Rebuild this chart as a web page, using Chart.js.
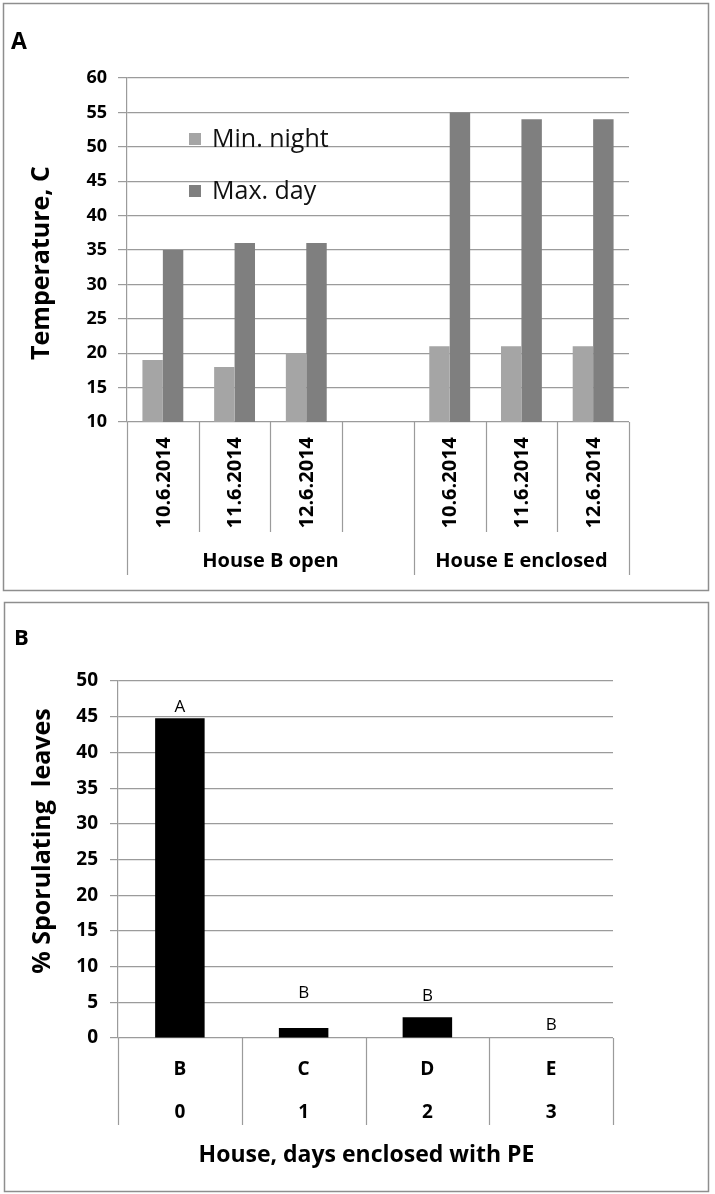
<!DOCTYPE html>
<html>
<head>
<meta charset="utf-8">
<script src="https://cdn.jsdelivr.net/npm/chart.js@4.4.0/dist/chart.umd.min.js"></script>
<style>
  html, body { margin: 0; padding: 0; background: #fff; }
  canvas { position: absolute; left: 0; }
  #tempChart { top: 0; }
  #sporChart { top: 597px; }
</style>
</head>
<body>
<canvas id="tempChart" width="715" height="597"></canvas>
<canvas id="sporChart" width="715" height="597"></canvas>
<script>
// Panel A: temperatures per day, two houses
const dateLabels = ['10.6.2014', '11.6.2014', '12.6.2014', '', '10.6.2014', '11.6.2014', '12.6.2014'];
const houseGroups = ['House B open', 'House E enclosed'];
const groupSpans = [4, 3];
const minNight = [19, 18, 20, null, 21, 21, 21];
const maxDay = [35, 36, 36, null, 55, 54, 54];

// Panel B: sporulating leaves per house
const houses = ['B', 'C', 'D', 'E'];
const daysEnclosed = ['0', '1', '2', '3'];
const sporulating = [44.8, 1.4, 2.9, 0];
const letters = ['A', 'B', 'B', 'B'];
const letterAt = [45.7, 5.6, 5.2, 1.1];

const GRID = '#9b9b9b';
const FONT = "'Open Sans', 'DejaVu Sans', sans-serif";
Chart.defaults.font.family = FONT;

function frame(ctx, x, y, w, h) {
  ctx.save();
  ctx.strokeStyle = '#8e8e8e';
  ctx.lineWidth = 1.5;
  ctx.strokeRect(x, y, w, h);
  ctx.restore();
}

function vline(ctx, x, y1, y2) {
  ctx.beginPath();
  ctx.moveTo(x, y1);
  ctx.lineTo(x, y2);
  ctx.stroke();
}

function vtext(ctx, text, x, y, align) {
  ctx.save();
  ctx.translate(x, y);
  ctx.rotate(-Math.PI / 2);
  ctx.textAlign = align;
  ctx.textBaseline = 'middle';
  ctx.fillText(text, 0, 0);
  ctx.restore();
}

const tempDecor = {
  id: 'tempDecor',
  afterDraw(chart) {
    const { ctx, chartArea: a, scales: { x } } = chart;
    const n = dateLabels.length;
    const slot = (a.right - a.left) / n;
    ctx.save();
    frame(ctx, 3.5, 3.5, 705, 587);

    // category dividers, longer ones at group edges
    const edges = [0];
    groupSpans.forEach(s => edges.push(edges[edges.length - 1] + s));
    ctx.strokeStyle = GRID;
    ctx.lineWidth = 1.2;
    for (let i = 0; i <= n; i++) {
      const px = Math.round(a.left + i * slot) + 0.5;
      vline(ctx, px, a.bottom, a.bottom + (edges.includes(i) ? 153 : 110));
    }

    ctx.fillStyle = '#000';
    ctx.font = 'bold 20px ' + FONT;
    dateLabels.forEach((d, i) => {
      if (d) vtext(ctx, d, x.getPixelForValue(i) + 1, a.bottom + 15, 'right');
    });

    ctx.textAlign = 'center';
    ctx.textBaseline = 'alphabetic';
    houseGroups.forEach((g, k) => {
      const cx = a.left + (edges[k] + edges[k + 1]) / 2 * slot;
      ctx.fillText(g, cx, a.bottom + 145);
    });

    // legend inside plot
    ctx.textAlign = 'left';
    ctx.font = '25px ' + FONT;
    chart.data.datasets.forEach((ds, k) => {
      const top = 133 + k * 52;
      ctx.fillStyle = ds.backgroundColor;
      ctx.fillRect(189, top, 12, 12);
      ctx.fillStyle = '#111';
      ctx.fillText(ds.label, 212, top + 14);
    });

    ctx.fillStyle = '#000';
    ctx.font = 'bold 25px ' + FONT;
    vtext(ctx, 'Temperature, C', 42, 263, 'center');

    ctx.font = 'bold 23px ' + FONT;
    ctx.textAlign = 'left';
    ctx.fillText('A', 11, 49);
    ctx.restore();
  }
};

const sporDecor = {
  id: 'sporDecor',
  afterDraw(chart) {
    const { ctx, chartArea: a, scales: { x, y } } = chart;
    const n = houses.length;
    const slot = (a.right - a.left) / n;
    ctx.save();
    frame(ctx, 4.5, 5.5, 704, 589);

    ctx.strokeStyle = GRID;
    ctx.lineWidth = 1.2;
    for (let i = 0; i <= n; i++) {
      vline(ctx, Math.round(a.left + i * slot) + 0.5, a.bottom, a.bottom + 87);
    }

    ctx.fillStyle = '#000';
    ctx.textAlign = 'center';
    ctx.textBaseline = 'alphabetic';
    ctx.font = 'bold 19px ' + FONT;
    houses.forEach((h, i) => {
      const cx = x.getPixelForValue(i);
      ctx.fillText(h, cx, a.bottom + 37);
      ctx.fillText(daysEnclosed[i], cx, a.bottom + 80);
    });

    ctx.font = '17px ' + FONT;
    letters.forEach((l, i) => {
      ctx.fillText(l, x.getPixelForValue(i), y.getPixelForValue(letterAt[i]));
    });

    ctx.font = 'bold 23px ' + FONT;
    ctx.fillText('House, days enclosed with PE', (a.left + a.right) / 2 + 1, a.bottom + 124);

    ctx.font = 'bold 25px ' + FONT;
    vtext(ctx, '% Sporulating  leaves', 43, 244, 'center');

    ctx.font = 'bold 22px ' + FONT;
    ctx.textAlign = 'left';
    ctx.fillText('B', 14, 48);
    ctx.restore();
  }
};

new Chart(document.getElementById('tempChart'), {
  type: 'bar',
  data: {
    labels: dateLabels,
    datasets: [
      { label: 'Min. night', data: minNight, backgroundColor: '#a5a5a5' },
      { label: 'Max. day', data: maxDay, backgroundColor: '#7f7f7f' }
    ]
  },
  options: {
    responsive: false,
    animation: false,
    layout: { padding: { top: 78, right: 86, bottom: 175, left: 0 } },
    datasets: { bar: { categoryPercentage: 0.57, barPercentage: 1 } },
    plugins: { legend: { display: false }, tooltip: { enabled: false } },
    scales: {
      x: { display: false },
      y: {
        min: 10, max: 60,
        ticks: { stepSize: 5, padding: 11, color: '#000', font: { size: 18, weight: 'bold' } },
        grid: { color: GRID, lineWidth: 1.2, tickLength: 9 },
        border: { color: GRID, width: 1.2 },
        afterFit(s) { s.width = 127; }
      }
    }
  },
  plugins: [tempDecor]
});

new Chart(document.getElementById('sporChart'), {
  type: 'bar',
  data: {
    labels: houses,
    datasets: [
      { label: '% Sporulating leaves', data: sporulating, backgroundColor: '#000' }
    ]
  },
  options: {
    responsive: false,
    animation: false,
    layout: { padding: { top: 84, right: 102, bottom: 156, left: 0 } },
    datasets: { bar: { categoryPercentage: 0.4, barPercentage: 1 } },
    plugins: { legend: { display: false }, tooltip: { enabled: false } },
    scales: {
      x: { display: false },
      y: {
        min: 0, max: 50,
        ticks: { stepSize: 5, padding: 12, color: '#000', font: { size: 19, weight: 'bold' } },
        grid: { color: GRID, lineWidth: 1.2, tickLength: 8 },
        border: { color: GRID, width: 1.2 },
        afterFit(s) { s.width = 118; }
      }
    }
  },
  plugins: [sporDecor]
});
</script>
</body>
</html>
